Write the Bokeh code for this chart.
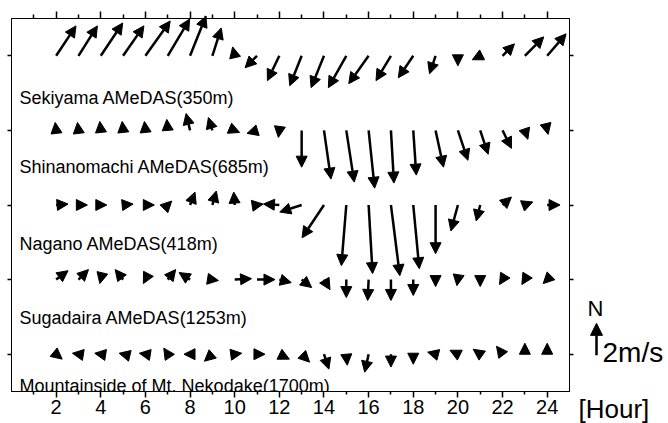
from bokeh.plotting import figure
from bokeh.layouts import row
from bokeh.models import (Range1d, LinearAxis, FixedTicker, Arrow, NormalHead, ColumnDataSource,
                          CustomLabelingPolicy, Title)
from bokeh.core.properties import value
from bokeh.embed import file_html
from bokeh.resources import INLINE

# ---------------- data ----------------
hours = list(range(2, 25))
tick_hours = list(range(2, 25, 2))
minor_hours = list(range(1, 25, 2))
stations = ["Sekiyama AMeDAS(350m)", "Shinanomachi AMeDAS(685m)", "Nagano AMeDAS(418m)",
            "Sugadaira AMeDAS(1253m)", "Mountainside of Mt. Nekodake(1700m)"]
rows = [5, 4, 3, 2, 1]

# wind components (m/s): u eastward, v northward
sek_u = [1.25, 1.19, 1.38, 1.31, 1.56, 1.38, 1.00, 0.56, -0.13, -0.75, -0.75, -0.75, -0.81, -1.13, -1.25, -0.94, -0.94, -0.38, 0.00, -0.50, 0.75, 1.19, 1.19]
sek_v = [1.88, 1.88, 2.06, 1.88, 2.19, 2.31, 2.50, 1.75, 0.56, -0.75, -1.56, -1.88, -2.00, -2.00, -1.75, -1.56, -1.38, -1.13, -0.63, -0.25, 0.75, 1.19, 1.38]
shi_u = [-0.06, -0.06, -0.06, -0.06, -0.06, -0.06, -0.25, -0.25, 0.31, -0.63, -0.06, 0.00, 0.44, 0.50, 0.38, 0.19, 0.19, 0.50, 0.63, 0.50, 0.56, 0.19, 0.06]
shi_v = [0.50, 0.50, 0.56, 0.56, 0.56, 0.69, 1.06, 0.81, -0.13, -0.19, -0.44, -2.31, -3.06, -3.25, -3.63, -3.31, -2.81, -2.31, -1.88, -1.50, -1.13, -0.56, -0.25]
nag_u = [0.75, 0.56, 0.38, 0.63, 0.56, 0.25, 0.31, 0.25, -0.06, 0.38, -1.00, -1.38, -1.38, -0.31, 0.25, 0.56, 0.38, 0.00, -0.44, -0.25, 0.56, 0.50, 0.81]
nag_v = [0.06, 0.00, 0.00, 0.06, 0.00, 0.25, 0.81, 0.88, 0.81, 0.06, 0.06, -0.44, -2.06, -3.81, -4.31, -4.44, -4.00, -3.06, -1.63, -1.00, 0.50, 0.19, 0.00]
sug_u = [0.75, 0.63, -0.06, -0.50, -0.13, 0.50, -0.69, 0.38, 1.06, 1.13, 0.75, 0.63, 0.38, 0.00, -0.06, 0.00, 0.00, 0.00, -0.06, 0.00, -0.19, -0.19, -0.25]
sug_v = [0.56, 0.63, -0.25, 0.63, -0.25, 0.63, 0.44, -0.06, 0.06, 0.00, -0.19, -0.50, -0.63, -1.13, -1.31, -1.31, -1.00, -0.44, -0.38, -0.44, -0.31, -0.31, -0.25]
mtn_u = [0.38, -0.38, -0.38, -0.25, -0.38, -0.25, -0.38, -0.50, 0.44, 0.50, 0.63, 0.50, 0.31, 0.06, -0.25, 0.00, 0.00, -0.50, -0.50, -0.44, -0.38, 0.00, 0.00]
mtn_v = [-0.31, 0.06, 0.06, 0.06, 0.06, 0.38, 0.00, -0.44, 0.06, 0.00, -0.31, -0.50, -0.94, -0.69, -1.13, -0.81, -0.63, 0.13, 0.25, 0.31, 0.50, 0.69, 0.69]
ref_speed = 2  # m/s, scale arrow

all_u = [sek_u, shi_u, nag_u, sug_u, mtn_u]
all_v = [sek_v, shi_v, nag_v, sug_v, mtn_v]

# ---------------- layout ----------------
W, H = 577, 423
BL, BR, BT, BB = 11, 4, 18, 30
FW = W - BL - BR
FH = H - BT - BB
PXX = FW / 25.0
PXY = FH / 5.0
K = 16.0  # pixels per m/s
label_off = [42, 37, 39, 39, 32]  # px below each row
HEAD = 11

yr = Range1d(0.5, 5.5)
p = figure(width=W, height=H, x_range=Range1d(0, 25), y_range=yr,
           output_backend="svg", toolbar_location=None,
           x_axis_location=None, y_axis_location=None,
           min_border_left=BL, min_border_right=BR, min_border_top=BT, min_border_bottom=BB,
           outline_line_color="black", background_fill_color="white", border_fill_color="white")
p.grid.visible = False

def xaxis(out_major, out_minor, show):
    kw = dict(ticker=FixedTicker(ticks=tick_hours, minor_ticks=minor_hours),
              major_tick_in=0, major_tick_out=out_major,
              minor_tick_in=0, minor_tick_out=out_minor,
              axis_line_color="black", major_tick_line_color="black",
              minor_tick_line_color="black", major_tick_line_width=1.5,
              minor_tick_line_width=1.5,
              major_label_text_font="Liberation Sans",
              major_label_text_color="black",
              major_label_text_font_size="20px",
              major_label_standoff=2)
    if not show:
        kw["major_label_policy"] = CustomLabelingPolicy(code="return []")
        kw["major_label_standoff"] = 0
        kw["major_label_text_font_size"] = "1px"
    return LinearAxis(**kw)

p.add_layout(xaxis(6, 3, True), "below")
p.add_layout(xaxis(7, 4, False), "above")

def yaxis(out):
    return LinearAxis(ticker=FixedTicker(ticks=rows, minor_ticks=[]),
                      major_tick_in=0, major_tick_out=out, minor_tick_in=0, minor_tick_out=0,
                      axis_line_color="black", major_tick_line_color="black",
                      major_tick_line_width=1.5,
                      major_label_policy=CustomLabelingPolicy(code="return []"),
                      major_label_text_font_size="1px", major_label_standoff=0)

p.add_layout(yaxis(4), "left")
p.add_layout(yaxis(4), "right")

# ---------------- arrows ----------------
x0, y0, x1, y1 = [], [], [], []
for r, us, vs in zip(rows, all_u, all_v):
    for h, u, v in zip(hours, us, vs):
        x0.append(h)
        y0.append(r)
        x1.append(h + u * K / PXX)
        y1.append(r + v * K / PXY)
src = ColumnDataSource(dict(x0=x0, y0=y0, x1=x1, y1=y1))
p.add_layout(Arrow(source=src, x_start="x0", y_start="y0", x_end="x1", y_end="y1",
                   line_width=2.5, line_color="black",
                   end=NormalHead(size=HEAD, fill_color="black", line_color="black", line_width=1)))

# station labels
p.text(x=[0.36] * 5, y=[r - off / PXY for r, off in zip(rows, label_off)], text=stations,
       text_font=value("Liberation Sans"), text_font_size="18px", text_color="black",
       text_align="left", text_baseline="alphabetic")

# ---------------- side panel: north / scale arrow / unit ----------------
SW = 668 - W
q = figure(width=SW, height=H, x_range=Range1d(0, SW), y_range=yr,
           output_backend="svg", toolbar_location=None,
           x_axis_location=None, y_axis_location=None,
           min_border_left=0, min_border_right=0, min_border_top=BT, min_border_bottom=0,
           outline_line_color=None, background_fill_color="white", border_fill_color="white")
q.grid.visible = False
q.add_layout(Title(text="[Hour]", align="left", offset=1, standoff=0,
                   text_font="Liberation Sans", text_font_size="26px",
                   text_font_style="normal", text_color="black"), "below")

q.text(x=[10], y=[1 + 46 / PXY], text=["N"], text_font=value("Liberation Sans"),
       text_font_size="22px", text_color="black", text_baseline="alphabetic")
q.text(x=[25], y=[1 + 2 / PXY], text=[f"{ref_speed}m/s"], text_font=value("Liberation Sans"),
       text_font_size="28px", text_color="black", text_baseline="alphabetic")
q.add_layout(Arrow(x_start=19, y_start=1 - 1 / PXY, x_end=19, y_end=1 - 1 / PXY + ref_speed * K / PXY,
                   line_width=2.5, line_color="black",
                   end=NormalHead(size=12, fill_color="black", line_color="black", line_width=1)))

open("out.html", "w").write(file_html(row(p, q), INLINE))
